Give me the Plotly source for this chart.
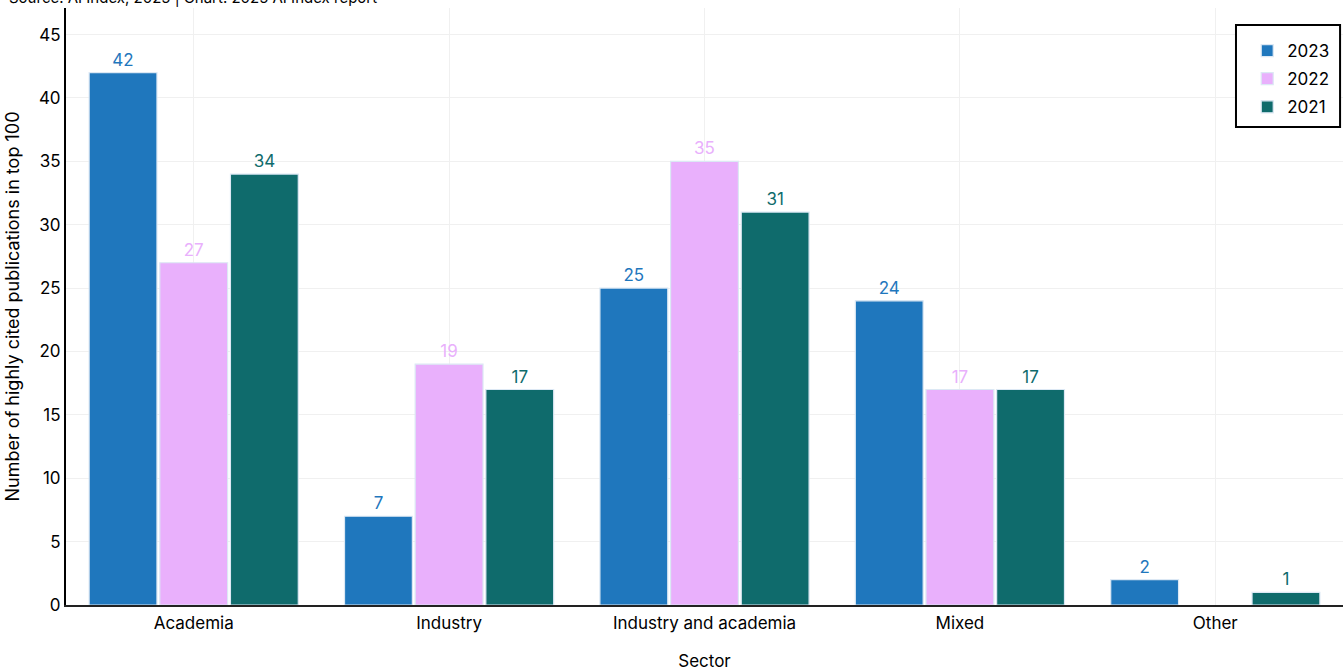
import plotly.graph_objects as go

sectors = ["Academia", "Industry", "Industry and academia", "Mixed", "Other"]
years = ["2023", "2022", "2021"]
v2023 = [42, 7, 25, 24, 2]
v2022 = [27, 19, 35, 17, None]
v2021 = [34, 17, 31, 17, 1]
colors = ["#1f77bd", "#e9b0fc", "#0f6b6c"]

fig = go.Figure()
for name, vals, col in zip(years, [v2023, v2022, v2021], colors):
    fig.add_trace(go.Bar(
        x=sectors, y=vals, name=name, legendgroup=name,
        marker=dict(color=col, line=dict(color="#dce8f4", width=1.2)),
        text=[str(v) if v is not None else "" for v in vals],
        textposition="outside",
        textfont=dict(color=col, size=17, family="Inter"),
        cliponaxis=False,
    ))

fig.update_layout(
    width=1344, height=671,
    margin=dict(l=66, r=1, t=8, b=66),
    paper_bgcolor="white", plot_bgcolor="white",
    barmode="group", bargap=0.17, bargroupgap=0.04,
    font=dict(family="Inter", size=17, color="black"),
    legend=dict(x=0.925, y=0.958, xanchor="left", yanchor="top",
                borderwidth=0, bgcolor="rgba(0,0,0,0)",
                font=dict(size=17), itemwidth=30, tracegroupgap=3,
                traceorder="grouped"),
    shapes=[dict(type="rect", xref="paper", yref="paper",
                 x0=0.9162, x1=0.9977, y0=0.8007, y1=0.9715,
                 line=dict(color="black", width=2), fillcolor="white", layer="above")],
    annotations=[dict(text="Source: AI Index, 2025 | Chart: 2025 AI Index report",
                      xref="paper", yref="paper", x=-0.046, y=0.999,
                      xanchor="left", yanchor="bottom", showarrow=False,
                      font=dict(size=15, color="black"))],
)
fig.update_xaxes(
    title=dict(text="Sector", standoff=23, font=dict(size=17)),
    showline=True, linecolor="#222222", linewidth=2,
    showgrid=True, gridcolor="#f0f0f0", tickfont=dict(size=17),
    ticklabelstandoff=2,
)
fig.update_yaxes(
    title=dict(text="Number of highly cited publications in top 100", font=dict(size=18)),
    range=[0, 47.1], dtick=5,
    showline=True, linecolor="black", linewidth=2,
    showgrid=True, gridcolor="#f0f0f0", zeroline=False, tickfont=dict(size=17),
)

fig.write_html("out.html", post_script="document.body.style.margin='0';",
               config={"displayModeBar": False})
